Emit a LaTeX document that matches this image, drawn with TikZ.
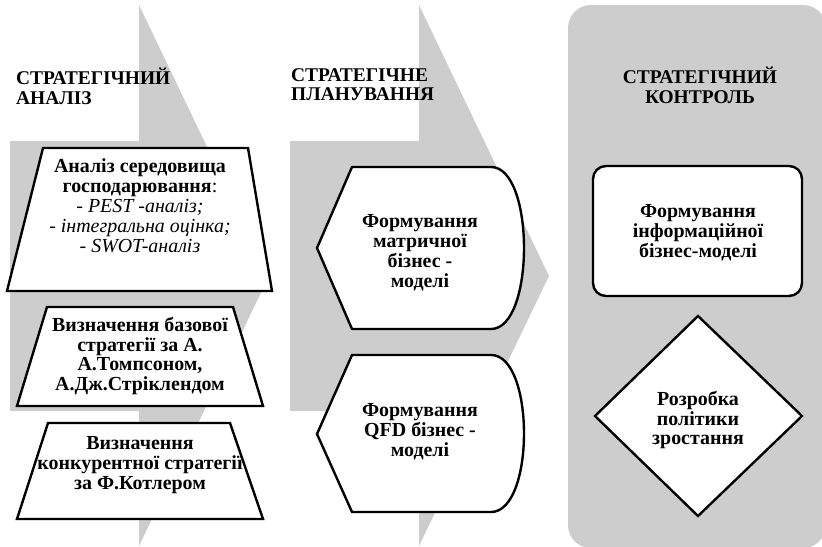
\documentclass[tikz,border=0pt]{standalone}
\usepackage{fontspec}
\setmainfont{Liberation Serif}
\definecolor{bg}{RGB}{205,205,205}
\begin{document}
\begin{tikzpicture}[x=1bp,y=-1bp,
  shp/.style={draw=black,line width=2.4bp,fill=white,line join=miter},
  hdr/.style={font=\fontsize{19.5}{19.5}\selectfont\bfseries,align=left,inner sep=0pt},
  txt/.style={font=\fontsize{20}{20}\selectfont\bfseries,align=center,inner sep=0pt}]
\useasboundingbox (0,0) rectangle (822,547);
% background arrows
\fill[bg] (10,141) -- (139,141) -- (139,5) -- (269,276) -- (139,546) -- (139,411) -- (10,411) -- cycle;
\fill[bg] (290,141) -- (419,141) -- (419,5) -- (549,276) -- (419,546) -- (419,411) -- (290,411) -- cycle;
\fill[bg,rounded corners=23] (568,5) rectangle (826,548);
% headers
\node[hdr,anchor=north west] (h1) at (16,68) {СТРАТЕГІЧНИЙ\\АНАЛІЗ};
\node[hdr,anchor=north west] (h2) at (291,68) {СТРАТЕГІЧНЕ\\ПЛАНУВАННЯ};
\node[hdr,align=center,anchor=north] (h3) at (700,67) {СТРАТЕГІЧНИЙ\\КОНТРОЛЬ};
% trapezoids
\draw[shp] (43,148) -- (248,148) -- (272,291) -- (7,291) -- cycle;
\node[txt] (a1) at (140,206) {Аналіз середовища\\господарювання\textmd{:}\\\mdseries\itshape - PEST -аналіз;\\\mdseries\itshape - інтегральна оцінка;\\\mdseries\itshape - SWOT-аналіз};
\draw[shp] (47,307) -- (233,307) -- (263,406) -- (17,406) -- cycle;
\node[txt] (a2) at (140,356) {Визначення базової\\стратегії за А.\\А.Томпсоном,\\А.Дж.Стріклендом};
\draw[shp] (48,423) -- (230,423) -- (263,519) -- (17,519) -- cycle;
\node[txt] (a3) at (140,465) {Визначення\\конкурентної стратегії\\за Ф.Котлером};
% display shapes
\draw[shp] (317,248) -- (352,167) -- (491,167) .. controls (535,167) and (535,329) .. (491,329) -- (352,329) -- cycle;
\node[txt] (p1) at (420,253) {Формування\\матричної\\бізнес -\\моделі};
\draw[shp] (317,434) -- (352,355) -- (491,355) .. controls (535,355) and (535,512) .. (491,512) -- (352,512) -- cycle;
\node[txt] (p2) at (420,432) {Формування\\QFD бізнес -\\моделі};
% control
\draw[shp,rounded corners=13] (593,166) rectangle (802,296);
\node[txt] (c1) at (698,233) {Формування\\інформаційної\\бізнес-моделі};
\draw[shp] (698,316) -- (802,416) -- (698,516) -- (595,416) -- cycle;
\node[txt] (c2) at (698,420) {Розробка\\політики\\зростання};
\end{tikzpicture}
\end{document}
